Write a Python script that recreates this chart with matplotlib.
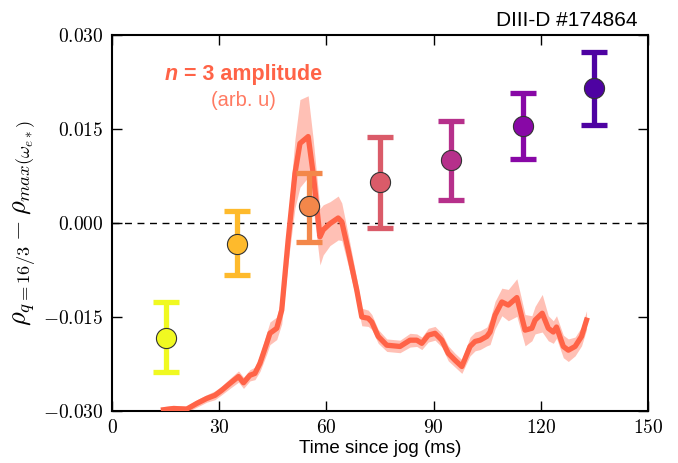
import matplotlib
matplotlib.use("Agg")
import matplotlib.pyplot as plt
from matplotlib.ticker import FuncFormatter
from matplotlib.transforms import offset_copy
import numpy as np

plt.rcParams['mathtext.fontset'] = 'cm'
plt.rcParams['font.family'] = ['Liberation Sans', 'DejaVu Sans']

# Measurement points
t_pts = [15, 35, 55, 75, 95, 115, 135]
rho_diff = [-0.0184, -0.0034, 0.0027, 0.0065, 0.0100, 0.0155, 0.0215]
err_lo = [0.0054, 0.0049, 0.0057, 0.0073, 0.0063, 0.0053, 0.0059]
err_hi = [0.0058, 0.0053, 0.0053, 0.0072, 0.0063, 0.0052, 0.0058]
cmap_pos = [1.0, 0.85, 0.71, 0.57, 0.42, 0.28, 0.13]

# n=3 amplitude trace (arb. units, drawn in the axis' data units)
t_amp = [14.4, 17.2, 20.9, 23.7, 26.5, 28.8, 30.7, 33.0, 35.4, 36.8, 38.6, 40.0,
         41.4, 43.3, 44.2, 46.1, 47.5, 49.3, 51.2, 52.6, 54.9, 56.3, 58.2, 59.1,
         61.0, 63.3, 64.3, 66.1, 68.5, 69.9, 71.7, 72.7, 74.5, 76.9, 80.6, 83.4,
         85.3, 86.7, 88.5, 90.4, 92.3, 94.1, 96.0, 97.9, 100.2, 101.6, 103.0, 104.9,
         105.8, 107.2, 109.1, 110.9, 113.3, 115.6, 117.5, 118.4, 120.4, 122.1, 123.5,
         124.4, 126.3, 127.7, 129.6, 131.4, 132.8]
amp = [-0.0298, -0.0296, -0.0297, -0.0288, -0.0280, -0.0275, -0.0267, -0.0256,
       -0.0245, -0.0255, -0.0243, -0.0240, -0.0224, -0.0192, -0.0176, -0.0168,
       -0.0139, -0.0027, 0.0079, 0.0127, 0.0138, 0.0079, -0.0022, -0.0011,
       -0.0001, 0.0008, 0.0002, -0.0043, -0.0107, -0.0150, -0.0152, -0.0158,
       -0.0181, -0.0195, -0.0197, -0.0187, -0.0187, -0.0192, -0.0179, -0.0176,
       -0.0187, -0.0208, -0.0219, -0.0229, -0.0197, -0.0189, -0.0187, -0.0181,
       -0.0174, -0.0147, -0.0126, -0.0131, -0.0119, -0.0171, -0.0168, -0.0155,
       -0.0144, -0.0168, -0.0174, -0.0166, -0.0197, -0.0203, -0.0197, -0.0181,
       -0.0155]
amp_err = [0.0005, 0.0005, 0.0005, 0.0006, 0.0006, 0.0007, 0.0007, 0.0008,
           0.0009, 0.0009, 0.0009, 0.0010, 0.0013, 0.0017, 0.0018, 0.0018,
           0.0022, 0.0035, 0.0055, 0.0070, 0.0065, 0.0055, 0.0045, 0.0040,
           0.0035, 0.0035, 0.0030, 0.0025, 0.0018, 0.0014, 0.0013, 0.0012,
           0.0011, 0.0010, 0.0010, 0.0011, 0.0010, 0.0010, 0.0011, 0.0011,
           0.0011, 0.0012, 0.0011, 0.0011, 0.0015, 0.0015, 0.0015, 0.0015,
           0.0020, 0.0022, 0.0022, 0.0025, 0.0030, 0.0025, 0.0020, 0.0022,
           0.0030, 0.0020, 0.0018, 0.0018, 0.0018, 0.0018, 0.0015, 0.0015,
           0.0015]

x_ticks = [0, 30, 60, 90, 120, 150]
y_ticks = [-0.030, -0.015, 0.000, 0.015, 0.030]

fig = plt.figure(figsize=(6.78, 4.63), dpi=100)
ax = fig.add_axes([112/678, (463-411)/463, (648-112)/678, (411-35)/463])

line_col = '#ff6347'
amp_a = np.array(amp)
amp_e = np.array(amp_err)
ax.fill_between(t_amp, amp_a - amp_e, amp_a + amp_e, color=line_col, alpha=0.4,
                lw=0, zorder=2)
ax.plot(t_amp, amp, color=line_col, lw=3.8, zorder=3)

ax.axhline(0, color='black', ls='--', lw=1.0, dashes=(5, 4), zorder=1)

cmap = plt.get_cmap('plasma')
for t, v, lo, hi, c in zip(t_pts, rho_diff, err_lo, err_hi, cmap_pos):
    col = cmap(c)
    ax.errorbar([t], [v], yerr=[[lo], [hi]], fmt='none', ecolor=col,
                elinewidth=3.8, capsize=9.5, capthick=3.8, zorder=4)
    ax.plot([t], [v], 'o', color=col, markersize=14.5,
            markeredgecolor='#333333', markeredgewidth=0.8, zorder=5)

ax.set_xlim(0, 150)
ax.set_ylim(-0.030, 0.030)
ax.set_xticks(x_ticks)
ax.set_yticks(y_ticks)
ax.xaxis.set_major_formatter(FuncFormatter(lambda v, p: r'$%d$' % round(v)))
ax.yaxis.set_major_formatter(FuncFormatter(lambda v, p: r'$%.3f$' % v))
ax.tick_params(direction='in', top=True, right=True, length=7, width=1,
               labelsize=14, pad=6)
for s in ax.spines.values():
    s.set_linewidth(1.5)

ax.set_xlabel('Time since jog (ms)', fontsize=13.5, labelpad=2)
ax.set_ylabel(r'$\rho_{q=16/3} - \rho_{max(\omega_{e*})}$', fontsize=19, labelpad=4)

fig.text(637/678, 1 - 21/463, 'DIII-D #174864', ha='right', va='center', fontsize=15)

# "n = 3 amplitude" with bold-italic n
renderer = fig.canvas.get_renderer()
tx, ty = 36.7, 0.0237
t_n = ax.text(tx, ty, 'n', color=line_col, ha='left', va='center', fontsize=15.5,
              fontweight='bold', fontstyle='italic')
t_rest = ax.text(tx, ty, ' = 3 amplitude', color=line_col, ha='left', va='center',
                 fontsize=15.5, fontweight='bold')
w_n = t_n.get_window_extent(renderer).width
w_r = t_rest.get_window_extent(renderer).width
tot = w_n + w_r
t_n.set_transform(offset_copy(ax.transData, fig=fig, x=-tot / 2, y=0, units='dots'))
t_rest.set_transform(offset_copy(ax.transData, fig=fig, x=-tot / 2 + w_n, y=0, units='dots'))
ax.text(tx, 0.0196, '(arb. u)', color=line_col, ha='center', va='center',
        fontsize=14.5, alpha=0.85)

fig.savefig('out.png', dpi=100)
